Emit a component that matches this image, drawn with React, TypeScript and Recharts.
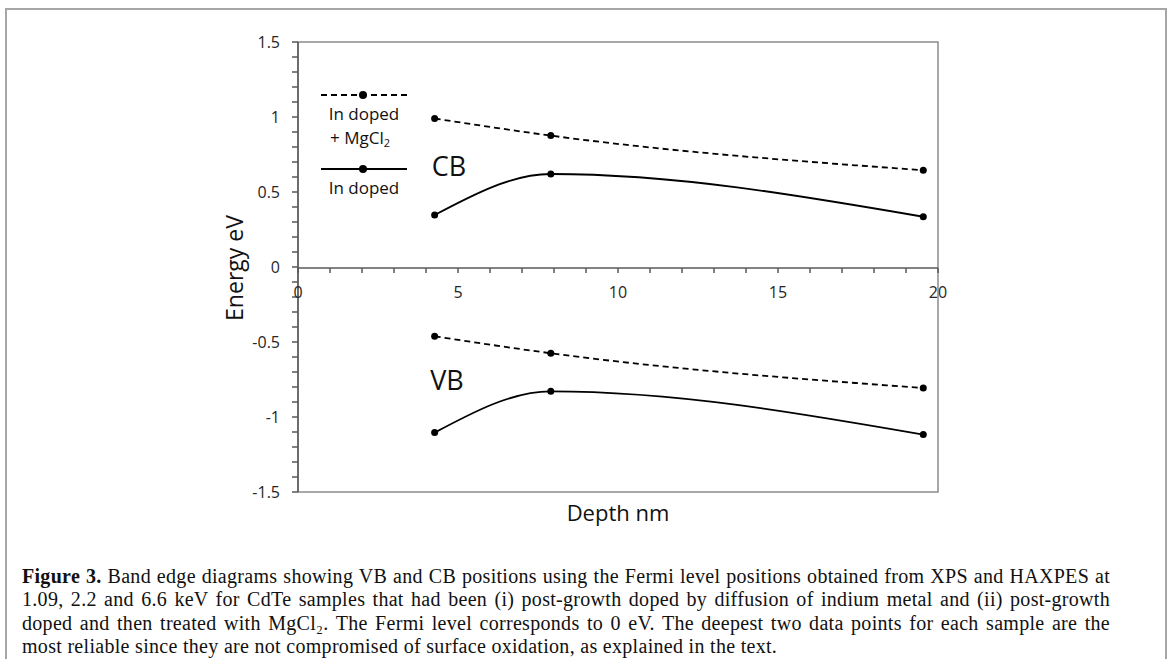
import { Line, LineChart, ReferenceArea, XAxis, YAxis } from "recharts";

// depth (nm) of each measurement and band positions (eV)
const depths = [4.27, 7.9, 19.54];
const cbMgCl2 = [0.99, 0.876, 0.645];
const cbInDoped = [0.347, 0.62, 0.335];
const vbMgCl2 = [-0.462, -0.575, -0.807];
const vbInDoped = [-1.104, -0.829, -1.117];

const xTicks = [0, 1, 2, 3, 4, 5, 6, 7, 8, 9, 10, 11, 12, 13, 14, 15, 16, 17, 18, 19, 20];
const xTickLabels = ["0", "5", "10", "15", "20"];
const yTicks = [
  -1.5, -1.4, -1.3, -1.2, -1.1, -1, -0.9, -0.8, -0.7, -0.6, -0.5, -0.4, -0.3, -0.2, -0.1, 0,
  0.1, 0.2, 0.3, 0.4, 0.5, 0.6, 0.7, 0.8, 0.9, 1, 1.1, 1.2, 1.3, 1.4, 1.5,
];
const yTickLabels = ["-1.5", "-1", "-0.5", "0", "0.5", "1", "1.5"];

const rows = depths.map((depth, i) => ({
  depth,
  cbMgCl2: cbMgCl2[i],
  cbInDoped: cbInDoped[i],
  vbMgCl2: vbMgCl2[i],
  vbInDoped: vbInDoped[i],
}));

const SANS = "'Open Sans', 'Noto Sans', sans-serif";
const SERIF = "'Liberation Serif', 'DejaVu Serif', serif";
const AXIS = "#595959";
const W = 1168;
const H = 659;
const margin = { top: 42, right: 230, bottom: 167, left: 0 };

const showLabel = (labels: string[]) => (v: number) =>
  labels.includes(String(v)) ? String(v) : "";

const dotStyle = { r: 3.5, fill: "#000", stroke: "none" };

const series = [
  { key: "cbMgCl2", dash: "6 4" },
  { key: "cbInDoped", dash: undefined },
  { key: "vbMgCl2", dash: "6 4" },
  { key: "vbInDoped", dash: undefined },
];

function LegendBox() {
  return (
    <svg
      width={W}
      height={H}
      style={{ position: "absolute", left: 0, top: 0, pointerEvents: "none" }}
    >
      <line x1={321} x2={407} y1={95} y2={95} stroke="#000" strokeWidth={1.8} strokeDasharray="6 4" />
      <circle cx={363} cy={95} r={4} fill="#000" />
      <text x={364} y={113} textAnchor="middle" dominantBaseline="central" fontFamily={SANS} fontSize={17} fill="#111">
        In doped
      </text>
      <text x={360} y={137} textAnchor="middle" dominantBaseline="central" fontFamily={SANS} fontSize={17} fill="#111">
        + MgCl<tspan fontSize={11} dy={5}>2</tspan>
      </text>
      <line x1={321} x2={407} y1={169} y2={169} stroke="#000" strokeWidth={1.8} />
      <circle cx={363} cy={169} r={4} fill="#000" />
      <text x={364} y={187} textAnchor="middle" dominantBaseline="central" fontFamily={SANS} fontSize={17} fill="#111">
        In doped
      </text>
      <text x={449} y={165} textAnchor="middle" dominantBaseline="central" fontFamily={SANS} fontSize={27} fill="#111">
        CB
      </text>
      <text x={447} y={379} textAnchor="middle" dominantBaseline="central" fontFamily={SANS} fontSize={27} fill="#111">
        VB
      </text>
      <text
        x={234}
        y={268}
        transform="rotate(-90 234 268)"
        textAnchor="middle"
        dominantBaseline="central"
        fontFamily={SANS}
        fontSize={23}
        fill="#111"
      >
        Energy eV
      </text>
      <text x={618} y={512} textAnchor="middle" dominantBaseline="central" fontFamily={SANS} fontSize={22} fill="#111">
        Depth nm
      </text>
    </svg>
  );
}

function Caption() {
  const line = { whiteSpace: "nowrap" as const, height: 23.4, width: 1088 };
  const full = { ...line, textAlign: "justify" as const, textAlignLast: "justify" as const };
  return (
    <div
      style={{
        position: "absolute",
        left: 22,
        top: 565,
        fontFamily: SERIF,
        fontSize: 20,
        letterSpacing: 0.3,
        lineHeight: "23.4px",
        color: "#111",
      }}
    >
      <div style={full}>
        <b>Figure 3.</b> Band edge diagrams showing VB and CB positions using the Fermi level positions obtained from XPS and HAXPES at
      </div>
      <div style={full}>
        1.09, 2.2 and 6.6 keV for CdTe samples that had been (i) post-growth doped by diffusion of indium metal and (ii) post-growth
      </div>
      <div style={full}>
        doped and then treated with MgCl₂. The Fermi level corresponds to 0 eV. The deepest two data points for each sample are the
      </div>
      <div style={line}>
        most reliable since they are not compromised of surface oxidation, as explained in the text.
      </div>
    </div>
  );
}

export default function App() {
  return (
    <div style={{ position: "absolute", left: 0, top: 0, width: W, height: H, overflow: "hidden", background: "#fff" }}>
      <div
        style={{
          position: "absolute",
          left: 5,
          top: 8,
          width: 1158,
          height: 700,
          borderTop: "2px solid #a6a6a6",
          borderLeft: "2px solid #a6a6a6",
          borderRight: "2px solid #a6a6a6",
        }}
      />
      <div style={{ position: "absolute", left: 0, top: 0 }}>
        <LineChart width={W} height={H} data={rows} margin={margin}>
          <XAxis type="number" dataKey="depth" domain={[0, 20]} hide />
          <YAxis
            type="number"
            domain={[-1.5, 1.5]}
            ticks={yTicks}
            interval={0}
            width={298}
            tickSize={6}
            tickMargin={12}
            tickFormatter={showLabel(yTickLabels)}
            stroke={AXIS}
            strokeWidth={1.5}
            tick={{ fill: "#262626", fontSize: 16, fontFamily: SANS }}
          />
          <ReferenceArea
            x1={0}
            x2={20}
            y1={-1.5}
            y2={1.5}
            fill="none"
            fillOpacity={0}
            stroke="#8c8c8c"
            strokeWidth={1.5}
            ifOverflow="visible"
          />
          {series.map((s) => (
            <Line
              key={s.key}
              dataKey={s.key}
              type="monotone"
              stroke="#000"
              strokeWidth={1.8}
              strokeDasharray={s.dash}
              dot={dotStyle}
              activeDot={false}
              isAnimationActive={false}
            />
          ))}
        </LineChart>
      </div>
      {/* x axis crosses at 0 eV: a second chart whose bottom axis sits on that line */}
      <div style={{ position: "absolute", left: 0, top: 0, pointerEvents: "none" }}>
        <LineChart width={W} height={320} data={rows} margin={{ top: 42, right: 230, bottom: 0, left: 298 }}>
          <XAxis
            type="number"
            dataKey="depth"
            domain={[0, 20]}
            ticks={xTicks}
            interval={0}
            height={52}
            tickSize={5}
            tickMargin={14}
            tickFormatter={showLabel(xTickLabels)}
            stroke={AXIS}
            strokeWidth={1.5}
            tick={{ fill: "#262626", fontSize: 16, fontFamily: SANS }}
          />
          <YAxis hide domain={[-1.5, 1.5]} />
          <Line dataKey="cbMgCl2" stroke="none" dot={false} activeDot={false} isAnimationActive={false} />
        </LineChart>
      </div>
      <LegendBox />
      <Caption />
    </div>
  );
}
